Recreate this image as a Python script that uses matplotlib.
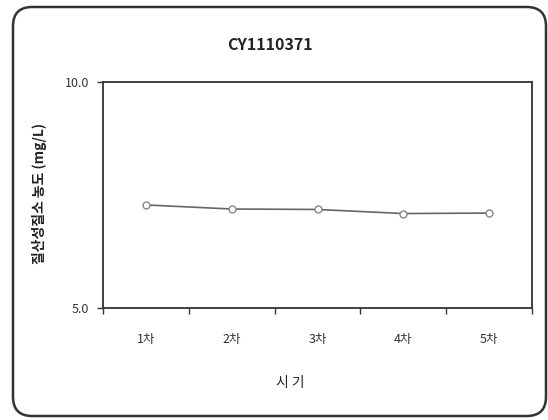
import matplotlib
matplotlib.use('Agg')
import matplotlib.pyplot as plt
from matplotlib.patches import FancyBboxPatch
import numpy as np

plt.rcParams['font.family'] = ['Noto Sans CJK KR', 'DejaVu Sans']

# data
categories = ['1차', '2차', '3차', '4차', '5차']
values = [7.28, 7.19, 7.18, 7.09, 7.10]
title = 'CY1110371'
xlabel = '시 기'
ylabel = '질산성질소 농도 (mg/L)'

fig = plt.figure(figsize=(5.48, 4.2), dpi=100)
ax = fig.add_axes([103/548, 1 - 308/420, (532 - 103)/548, (308 - 82)/420])

x = np.arange(len(categories))
ax.plot(x, values, color='#666666', lw=1.2, marker='o', ms=5,
        mfc='white', mec='#888888', mew=1.0)

ax.set_xlim(-0.5, len(categories) - 0.5)
ax.set_ylim(5, 10)
ax.set_yticks([5, 10])
ax.set_yticklabels(['5.0', '10.0'])

# tick marks at category boundaries, labels at centres
ax.set_xticks(np.arange(-0.5, len(categories), 1.0))
ax.set_xticklabels([])
ax.set_xticks(x, minor=True)
ax.set_xticklabels(categories, minor=True)
ax.tick_params(axis='x', which='major', length=4, width=1, color='#333333')
ax.tick_params(axis='x', which='minor', length=0, pad=18, labelsize=9, labelcolor='#333333')
ax.tick_params(axis='y', length=4, width=1, color='#333333', labelsize=9, labelcolor='#333333', pad=6)

for s in ax.spines.values():
    s.set_color('#333333')
    s.set_linewidth(1.3)

fig.text(270/548, 1 - 45/420, title, ha='center', va='center', fontsize=11.5, fontweight='bold', color='#222222')
fig.text(290/548, 1 - 383/420, xlabel, ha='center', va='center', fontsize=10, color='#222222')
fig.text(40/548, 1 - 193/420, ylabel, ha='center', va='center', rotation=90, fontsize=10,
         fontweight='bold', color='#222222')

frame = FancyBboxPatch((13/548, 4/420), (546 - 13)/548, (413 - 4)/420,
                       boxstyle='round,pad=0,rounding_size=0.035', transform=fig.transFigure,
                       facecolor='none', edgecolor='#333333', lw=1.8, mutation_aspect=548/420)
fig.patches.append(frame)

fig.savefig('out.png', dpi=100)
